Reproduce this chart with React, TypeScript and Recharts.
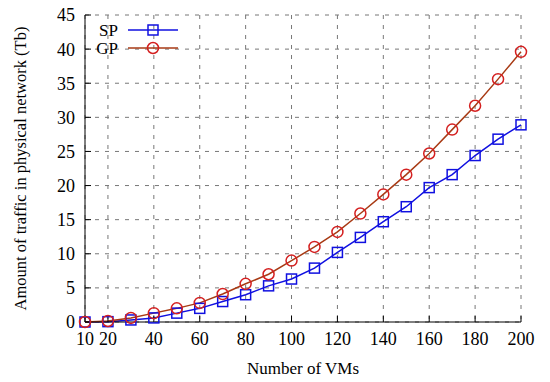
import React from 'react';
import { LineChart, Line, XAxis, YAxis, CartesianGrid, Customized } from 'recharts';

const vms = [10, 20, 30, 40, 50, 60, 70, 80, 90, 100, 110, 120, 130, 140, 150, 160, 170, 180, 190, 200];
const sp = [0, 0.05, 0.3, 0.6, 1.3, 2.0, 3.0, 4.0, 5.3, 6.3, 7.9, 10.2, 12.4, 14.7, 16.9, 19.7, 21.6, 24.4, 26.8, 28.9];
const gp = [0, 0.15, 0.6, 1.3, 2.0, 2.8, 4.1, 5.6, 7.0, 9.0, 11.0, 13.2, 15.9, 18.7, 21.6, 24.7, 28.2, 31.7, 35.6, 39.6];
const xTicks = [10, 20, 40, 60, 80, 100, 120, 140, 160, 180, 200];
const yTicks = [0, 5, 10, 15, 20, 25, 30, 35, 40, 45];
const seriesNames = ['SP', 'GP'];

const data = vms.map((v, i) => ({ vms: v, sp: sp[i], gp: gp[i] }));

const SP_COLOR = '#1010e0';
const GP_LINE = '#a83a14';
const GP_DOT = '#d42020';
const FONT = '"Liberation Serif", "DejaVu Serif", serif';

const Square = (props: any) => {
  const { cx, cy, index } = props;
  if (cx == null || cy == null) return <g key={`s${index}`} />;
  return <rect key={`s${index}`} x={cx - 5} y={cy - 5} width={10} height={10} fill="none" stroke={SP_COLOR} strokeWidth={1.5} />;
};

const Circle = (props: any) => {
  const { cx, cy, index } = props;
  if (cx == null || cy == null) return <g key={`c${index}`} />;
  return <circle key={`c${index}`} cx={cx} cy={cy} r={5.5} fill="none" stroke={GP_DOT} strokeWidth={1.5} />;
};

const LegendG = () => (
  <g style={{ fontFamily: FONT }}>
    <text x={118} y={36} fontSize={17} textAnchor="end" fill="#000">{seriesNames[0]}</text>
    <line x1={128} x2={178} y1={30} y2={30} stroke={SP_COLOR} strokeWidth={1.5} />
    <rect x={148} y={25} width={10} height={10} fill="none" stroke={SP_COLOR} strokeWidth={1.5} />
    <text x={118} y={54} fontSize={17} textAnchor="end" fill="#000">{seriesNames[1]}</text>
    <line x1={128} x2={178} y1={48} y2={48} stroke={GP_LINE} strokeWidth={1.5} />
    <circle cx={153} cy={48} r={5.5} fill="none" stroke={GP_DOT} strokeWidth={1.5} />
  </g>
);

export default function App() {
  const tickStyle = { fontSize: 18, fill: '#000', fontFamily: FONT };
  return (
    <div style={{ position: 'absolute', left: 0, top: 0, width: 550, height: 382, background: '#fff' }}>
      <LineChart width={550} height={382} data={data} margin={{ top: 15, right: 29, bottom: 30, left: 0 }}>
        <CartesianGrid stroke="#777" strokeDasharray="4 6" strokeWidth={1} />
        <XAxis
          dataKey="vms"
          type="number"
          domain={[10, 200]}
          ticks={xTicks}
          interval={0}
          height={30}
          tickSize={-6}
          tickMargin={16}
          stroke="#000"
          tick={tickStyle}
          label={{ value: 'Number of VMs', position: 'insideBottom', offset: -22, style: { fontSize: 17, fill: '#000', fontFamily: FONT } }}
        />
        <XAxis
          xAxisId="top"
          dataKey="vms"
          type="number"
          orientation="top"
          domain={[10, 200]}
          ticks={xTicks}
          interval={0}
          height={0}
          tickSize={-6}
          tick={false}
          stroke="#000"
        />
        <YAxis
          type="number"
          domain={[0, 45]}
          ticks={yTicks}
          interval={0}
          width={85}
          tickSize={-6}
          tickMargin={16}
          stroke="#000"
          tick={tickStyle}
          label={{ value: 'Amount of traffic in physical network (Tb)', angle: -90, position: 'insideLeft', offset: 20, style: { fontSize: 16.5, fill: '#000', fontFamily: FONT, textAnchor: 'middle' } }}
        />
        <YAxis
          yAxisId="right"
          type="number"
          orientation="right"
          domain={[0, 45]}
          ticks={yTicks}
          interval={0}
          width={0}
          tickSize={-6}
          tick={false}
          stroke="#000"
        />
        <Line type="linear" dataKey="sp" name={seriesNames[0]} stroke={SP_COLOR} strokeWidth={1.5} dot={Square} isAnimationActive={false} />
        <Line type="linear" dataKey="gp" name={seriesNames[1]} stroke={GP_LINE} strokeWidth={1.5} dot={Circle} isAnimationActive={false} />
        <Customized component={LegendG} />
      </LineChart>
    </div>
  );
}
